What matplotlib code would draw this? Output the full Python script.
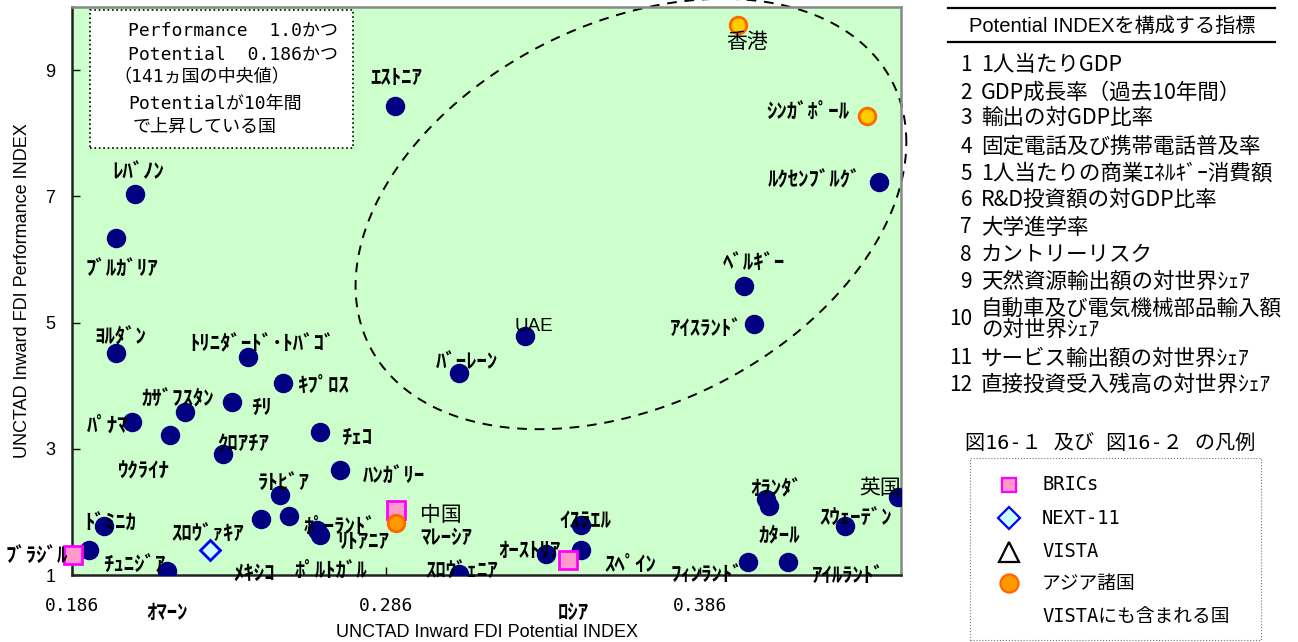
import numpy as np
import matplotlib.pyplot as plt
from matplotlib.lines import Line2D
from matplotlib.patches import Rectangle

JP = 'Noto Sans CJK JP'
MONO = ['DejaVu Sans Mono', JP]
SANS = ['Liberation Sans', JP]
plt.rcParams['font.family'] = [JP, 'DejaVu Sans']

# --- data: (Potential INDEX, Performance INDEX) ---
bric_names = ['ﾌﾞﾗｼﾞﾙ', '中国', 'ﾛｼｱ']
bric_pot = [0.1862, 0.2891, 0.3441]
bric_perf = [1.32, 2.03, 1.24]

next11_names = ['ﾒｷｼｺ']
next11_pot = [0.2301]
next11_perf = [1.40]

nies_names = ['香港', 'ｼﾝｶﾞﾎﾟｰﾙ']
nies_pot = [0.3981, 0.4391]
nies_perf = [9.72, 8.28]

asean_names = ['ﾏﾚｰｼｱ']
asean_pot = [0.2891]
asean_perf = [1.82]

other_names = ['ｴｽﾄﾆｱ', 'ﾚﾊﾞﾉﾝ', 'ﾌﾞﾙｶﾞﾘｱ', 'ﾖﾙﾀﾞﾝ', 'ﾄﾘﾆﾀﾞｰﾄﾞ･ﾄﾊﾞｺﾞ', 'ｷﾌﾟﾛｽ',
               'ｶｻﾞﾌｽﾀﾝ', 'ﾁﾘ', 'ﾊﾟﾅﾏ', 'ｳｸﾗｲﾅ', 'ｸﾛｱﾁｱ', 'ﾁｪｺ', 'ﾊﾝｶﾞﾘｰ', 'ﾗﾄﾋﾞｱ',
               'ｽﾛｳﾞｧｷｱ', 'ﾎﾟﾙﾄｶﾞﾙ', 'ﾎﾟｰﾗﾝﾄﾞ', 'ﾘﾄｱﾆｱ', 'ﾄﾞﾐﾆｶ', 'ﾁｭﾆｼﾞｱ', 'ｵﾏｰﾝ',
               'ｽﾛｳﾞｪﾆｱ', 'ｵｰｽﾄﾘｱ', 'ｲｽﾗｴﾙ', 'ｽﾍﾟｲﾝ', 'ﾌｨﾝﾗﾝﾄﾞ', 'ｱｲﾙﾗﾝﾄﾞ', 'ｵﾗﾝﾀﾞ',
               'ｶﾀｰﾙ', 'ｽｳｪｰﾃﾞﾝ', '英国', 'ﾙｸｾﾝﾌﾞﾙｸﾞ', 'ﾍﾞﾙｷﾞｰ', 'ｱｲｽﾗﾝﾄﾞ', 'UAE',
               'ﾊﾞｰﾚｰﾝ']
other_pot = [0.2890, 0.2061, 0.2000, 0.2000, 0.2421, 0.2531,
             0.2221, 0.2371, 0.2052, 0.2173, 0.2341, 0.2651, 0.2712, 0.2521,
             0.2462, 0.2551, 0.2640, 0.2651, 0.1962, 0.1913, 0.2162,
             0.3092, 0.3371, 0.3480, 0.3480, 0.4012, 0.4140, 0.4071,
             0.4081, 0.4322, 0.4492, 0.4431, 0.4001, 0.4031, 0.3302,
             0.3092]
other_perf = [8.43, 7.04, 6.34, 4.51, 4.46, 4.04,
              3.59, 3.74, 3.42, 3.22, 2.92, 3.26, 2.67, 2.26,
              1.89, 1.94, 1.72, 1.63, 1.77, 1.39, 1.06,
              1.02, 1.34, 1.80, 1.40, 1.21, 1.21, 2.21,
              2.10, 1.77, 2.24, 7.22, 5.58, 4.97, 4.78,
              4.20]

# label offsets from each marker, in pixels (x right, y up)
label_offset = {
    'ﾌﾞﾗｼﾞﾙ': (-36, -1), '中国': (45, -5), 'ﾛｼｱ': (5, -53), 'ﾒｷｼｺ': (44, -24),
    '香港': (9, -17), 'ｼﾝｶﾞﾎﾟｰﾙ': (-59, 4), 'ﾏﾚｰｼｱ': (50, -14),
    'ｴｽﾄﾆｱ': (1, 29), 'ﾚﾊﾞﾉﾝ': (3, 22), 'ﾌﾞﾙｶﾞﾘｱ': (6, -31), 'ﾖﾙﾀﾞﾝ': (4, 17),
    'ﾄﾘﾆﾀﾞｰﾄﾞ･ﾄﾊﾞｺﾞ': (14, 13), 'ｷﾌﾟﾛｽ': (41, -2), 'ｶｻﾞﾌｽﾀﾝ': (-7, 13),
    'ﾁﾘ': (29, -5), 'ﾊﾟﾅﾏ': (-25, -3), 'ｳｸﾗｲﾅ': (-27, -36), 'ｸﾛｱﾁｱ': (20, 10),
    'ﾁｪｺ': (36, -5), 'ﾊﾝｶﾞﾘｰ': (54, -7), 'ﾗﾄﾋﾞｱ': (4, 13), 'ｽﾛｳﾞｧｷｱ': (-53, -15),
    'ﾎﾟﾙﾄｶﾞﾙ': (42, -55), 'ﾎﾟｰﾗﾝﾄﾞ': (23, 3), 'ﾘﾄｱﾆｱ': (43, -6), 'ﾄﾞﾐﾆｶ': (6, 3),
    'ﾁｭﾆｼﾞｱ': (46, -15), 'ｵﾏｰﾝ': (0, -41), 'ｽﾛｳﾞｪﾆｱ': (3, 3), 'ｵｰｽﾄﾘｱ': (-17, 3),
    'ｲｽﾗｴﾙ': (5, 4), 'ｽﾍﾟｲﾝ': (50, -14), 'ﾌｨﾝﾗﾝﾄﾞ': (-41, -13),
    'ｱｲﾙﾗﾝﾄﾞ': (60, -14), 'ｵﾗﾝﾀﾞ': (10, 10), 'ｶﾀｰﾙ': (10, -30),
    'ｽｳｪｰﾃﾞﾝ': (11, 8), '英国': (-18, 9), 'ﾙｸｾﾝﾌﾞﾙｸﾞ': (-65, 2),
    'ﾍﾞﾙｷﾞｰ': (10, 23), 'ｱｲｽﾗﾝﾄﾞ': (-48, -4), 'UAE': (9, 10), 'ﾊﾞｰﾚｰﾝ': (8, 11),
}
plain_labels = {'香港', '中国', '英国'}

# dashed ellipse around the high-performance group: centre, half-widths, correlation
ell_center = (0.364, 6.72)
ell_half = (0.0877, 3.41)
ell_rho = 0.334

index_items = ['1人当たりGDP', 'GDP成長率（過去10年間）', '輸出の対GDP比率',
               '固定電話及び携帯電話普及率', '1人当たりの商業ｴﾈﾙｷﾞｰ消費額',
               'R&D投資額の対GDP比率', '大学進学率', 'カントリーリスク',
               '天然資源輸出額の対世界ｼｪｱ', '自動車及び電気機械部品輸入額\nの対世界ｼｪｱ',
               'サービス輸出額の対世界ｼｪｱ', '直接投資受入残高の対世界ｼｪｱ']

W, H = 1298, 642
fig = plt.figure(figsize=(W / 100, H / 100), dpi=100)
ax = fig.add_axes([72 / W, 1 - 575 / H, 829 / W, 568 / H])
ax.set_facecolor('#CCFFCC')
ax.set_xlim(0.186, 0.45)
ax.set_ylim(1, 10)

ax.plot(other_pot, other_perf, 'o', ms=13, color='#000080', mec='#000080', zorder=3)
ax.plot(bric_pot, bric_perf, 's', ms=13, mfc='#FF99CC', mec='#FF00FF', mew=2, zorder=4,
        clip_on=False)
ax.plot(next11_pot, next11_perf, 'D', ms=10, mfc='#CCFFFF', mec='#0000FF', mew=2, zorder=4)
ax.plot(nies_pot, nies_perf, 'o', ms=12, mfc='#FFCC00', mec='#FF6600', mew=2, zorder=4)
ax.plot(asean_pot, asean_perf, 'o', ms=12, mfc='#FF9900', mec='#FF6600', mew=2, zorder=4)

for names, xs, ys in [(bric_names, bric_pot, bric_perf), (next11_names, next11_pot, next11_perf),
                      (nies_names, nies_pot, nies_perf), (asean_names, asean_pot, asean_perf),
                      (other_names, other_pot, other_perf)]:
    for n, x, y in zip(names, xs, ys):
        if n in plain_labels:
            kw = dict(fontsize=15, family=[JP])
        elif n == 'UAE':
            kw = dict(fontsize=13.5, family=SANS)
        else:
            kw = dict(fontsize=15, family=[JP], fontweight='bold')
        ax.annotate(n, (x, y), xytext=label_offset[n], textcoords='offset pixels',
                    ha='center', va='center', annotation_clip=False, zorder=5, **kw)

t = np.linspace(0, 2 * np.pi, 400)
ex = ell_center[0] + ell_half[0] * np.cos(t)
ey = ell_center[1] + ell_half[1] * (ell_rho * np.cos(t) + np.sqrt(1 - ell_rho ** 2) * np.sin(t))
ax.plot(ex, ey, color='black', lw=1.4, ls=(0, (5, 4)), clip_on=False, zorder=2)

# note box
ax.add_patch(Rectangle((0.0217, 0.752), 0.317, 0.243, transform=ax.transAxes,
                       facecolor='white', edgecolor='black', lw=1.2, ls=':', zorder=5))
note = [('Performance  1.0かつ', 0.0676, 0.958), ('Potential  0.186かつ', 0.0676, 0.917),
        ('（141ヵ国の中央値）', 0.0495, 0.877), ('Potentialが10年間', 0.0676, 0.829),
        ('で上昇している国', 0.0736, 0.789)]
for s, x, y in note:
    ax.text(x, y, s, transform=ax.transAxes, ha='left', va='center', fontsize=13,
            family=MONO, zorder=6)

ax.set_xticks([0.186, 0.286, 0.386])
ax.set_xticklabels(['0.186', '0.286', '0.386'], family=MONO, fontsize=13)
ax.set_yticks([1, 3, 5, 7, 9])
ax.set_yticklabels(['1', '3', '5', '7', '9'], family=SANS, fontsize=13)
ax.tick_params(axis='both', direction='in', length=6, width=1)
ax.tick_params(axis='x', pad=16)
ax.tick_params(axis='y', pad=12)
for side in ['left', 'bottom']:
    ax.spines[side].set_color('#222222')
    ax.spines[side].set_linewidth(1.8)
for side in ['top', 'right']:
    ax.spines[side].set_color('#888888')
    ax.spines[side].set_linewidth(1.8)

ax.set_xlabel('UNCTAD Inward FDI Potential INDEX', family=SANS, fontsize=13)
ax.set_ylabel('UNCTAD Inward FDI Performance INDEX', family=SANS, fontsize=13)
ax.xaxis.set_label_coords(0.5, -0.101)
ax.xaxis.label.set_va('center')
ax.yaxis.set_label_coords(-0.060, 0.5)
ax.yaxis.label.set_va('center')


def fx(px):
    return px / W


def fy(py):
    return 1 - py / H


# index list panel
for yy in (8.3, 41.7):
    fig.add_artist(Line2D([fx(948), fx(1275)], [fy(yy), fy(yy)], color='black', lw=1.6))
fig.text(fx(1112), fy(26.5), 'Potential INDEXを構成する指標', ha='center', va='center',
         fontsize=14.5, family=SANS)
row_y = [65, 92.7, 118.3, 146.7, 174, 200, 227.3, 255, 281.7, 319, 358.3, 385]
for i, (item, yy) in enumerate(zip(index_items, row_y), start=1):
    fig.text(fx(972), fy(yy), str(i), ha='right', va='center', fontsize=15, family=[JP])
    fig.text(fx(981), fy(yy), item, ha='left', va='center', fontsize=15.5, family=[JP],
             linespacing=0.95)

# legend panel
fig.text(fx(1110), fy(443), '図16-１ 及び 図16-２ の凡例', ha='center', va='center',
         fontsize=14.5, family=MONO)
fig.add_artist(Rectangle((fx(970), fy(640)), fx(291), 182.3 / H, transform=fig.transFigure,
                         facecolor='none', edgecolor='#777777', lw=0.8, ls=':'))
legend_rows = [
    ('BRICs', dict(marker='s', ms=10, mfc='#FF99CC', mec='#FF00FF', mew=1.6), 485),
    ('NEXT-11', dict(marker='D', ms=11, mfc='#CCFFFF', mec='#0000FF', mew=1.6), 518.3),
    ('VISTA', dict(marker='^', ms=14, mfc='white', mec='black', mew=1.6), 551.7),
    ('アジア諸国', dict(marker='o', ms=13, mfc='#FF9900', mec='#FF6600', mew=1.6), 583.3),
    ('VISTAにも含まれる国', None, 616.7),
]
for label, mk, yy in legend_rows:
    if mk is not None:
        fig.add_artist(Line2D([fx(1009)], [fy(yy)], ls='none', transform=fig.transFigure, **mk))
    fig.text(fx(1042), fy(yy), label, ha='left', va='center', fontsize=13.5, family=MONO)

fig.savefig('out.png', dpi=100)
